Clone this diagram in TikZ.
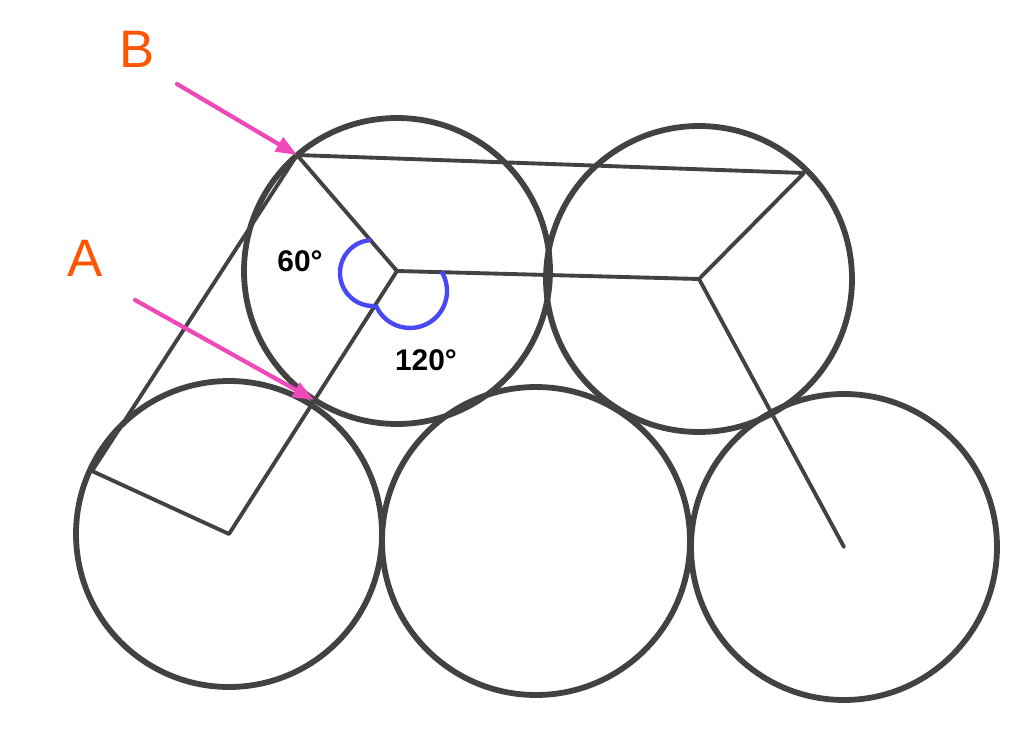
\documentclass[tikz,border=0pt]{standalone}
\usepackage{fontspec}
\setmainfont{Liberation Sans}
\usetikzlibrary{arrows.meta}
\definecolor{ballgray}{RGB}{66,66,66}
\definecolor{anglblue}{RGB}{72,72,245}
\definecolor{arrowpink}{RGB}{238,72,185}
\definecolor{labelorange}{RGB}{255,85,0}

\begin{document}
\begin{tikzpicture}[x=0.02cm, y=-0.02cm,
    ball/.style={draw=ballgray, line width=3.3pt},
    bond/.style={draw=ballgray, line width=2.2pt, line cap=round, line join=round},
    anglemark/.style={draw=anglblue, line width=2.5pt},
    pointer/.style={draw=arrowpink, line width=2.4pt, line cap=round,
      -{Triangle[length=12pt, width=9pt]}},
    letter/.style={text=labelorange, font=\fontsize{30}{34}\selectfont},
    degtext/.style={font=\bfseries\fontsize{17}{20}\selectfont}]
    \useasboundingbox (0, 0) rectangle (1024, 746);
    % ball centres
    \coordinate (c1) at (397, 271);
    \coordinate (c2) at (699, 279);
    \coordinate (c3) at (229, 534);
    \coordinate (c4) at (536, 541);
    \coordinate (c5) at (844, 547);
    % corners on the rims
    \coordinate (B) at (297, 155);
    \coordinate (tr) at (804, 173);
    \coordinate (bl) at (92, 471);
    \coordinate (A) at (314, 400);
    \coordinate (angL) at (373, 273);
    \coordinate (angR) at (410, 291);
    \coordinate (tailB) at (177, 84);
    \coordinate (tailA) at (135, 300);

    \draw[ball] (c1) circle[radius=153];
    \draw[ball] (c2) circle[radius=153];
    \draw[ball] (c3) circle[radius=153];
    \draw[ball] (c4) circle[radius=154];
    \draw[ball] (c5) circle[radius=153];

    \draw[bond] (B) -- (tr) -- (c2) -- (c1) -- cycle;
    \draw[bond] (B) -- (bl) -- (c3) -- (c1);
    \draw[bond] (c2) -- (c5);

    \draw[anglemark] (angL) ++(88:33) arc[start angle=88, end angle=266, radius=33];
    \draw[anglemark] (angR) ++(-32:37) arc[start angle=-32, end angle=158, radius=37];

    \draw[pointer] (tailB) -- (B);
    \draw[pointer] (tailA) -- (A);

    \node[letter] (labB) at (137, 49) {B};
    \node[letter] (labA) at (85, 258) {A};
    \node[degtext] (lab60) at (300, 261) {60°};
    \node[degtext] (lab120) at (426, 360) {120°};
  \end{tikzpicture}
\end{document}
